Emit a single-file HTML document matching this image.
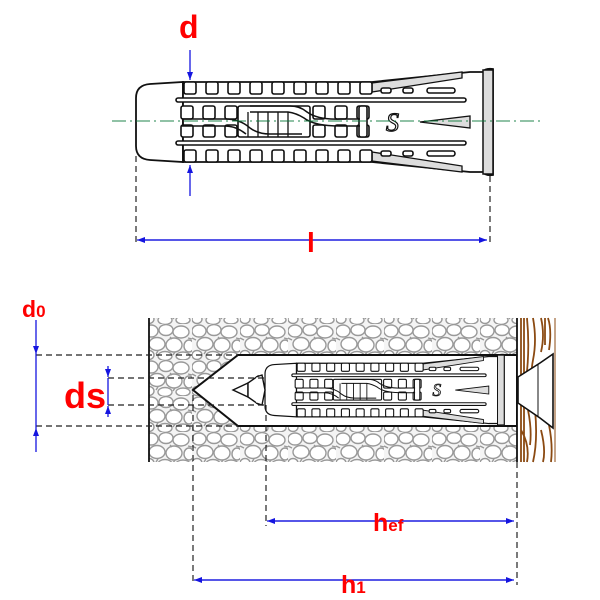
<!DOCTYPE html>
<html><head><meta charset="utf-8"><style>html,body{margin:0;padding:0;background:#fff}svg{display:block}</style></head>
<body>
<svg width="600" height="600" viewBox="0 0 600 600" xmlns="http://www.w3.org/2000/svg">
<defs>
<pattern id="stone" x="0" y="0" width="48" height="36" patternUnits="userSpaceOnUse">
<rect width="48" height="36" fill="#f4f4f4"/>
<g fill="#fff" stroke="#999" stroke-width="1.4">
<ellipse cx="7" cy="7" rx="7" ry="6"/><ellipse cx="22" cy="6" rx="7" ry="5.5"/><ellipse cx="37" cy="8" rx="8" ry="6"/>
<ellipse cx="13" cy="20" rx="8" ry="6.5"/><ellipse cx="30" cy="21" rx="8" ry="7"/><ellipse cx="45" cy="22" rx="5" ry="6"/>
<ellipse cx="5" cy="31" rx="5" ry="4.5"/><ellipse cx="21" cy="32" rx="7" ry="4.5"/><ellipse cx="39" cy="32" rx="7" ry="4"/>
<path d="M0 14 L4 16 M26 13 L28 15 M44 14 L48 15 M14 27 L12 30 M31 28 L29 31" fill="none"/>
</g>
</pattern>
<marker id="ar" markerWidth="8" markerHeight="6" refX="8" refY="3" orient="auto" markerUnits="userSpaceOnUse"><path d="M0 0 L8 3 L0 6 Z" fill="#1515e0"/></marker>
<g id="anchor">
<path d="M136 98 Q136 85 150 84 L183 82 L183 162 L150 160 Q136 159 136 146 Z" fill="#fff" stroke="#111" stroke-width="1.8"/>
<path d="M183 82 L372 82 L470 72 L483 72 Q485 68 493 69 L493 175 Q485 176 483 172 L470 172 L372 162 L183 162 Z" fill="#fff" stroke="#111" stroke-width="1.8"/>
<path d="M372 83 L462 72 L462 78 L372 92 Z M372 161 L462 172 L462 166 L372 152 Z" fill="#ddd" stroke="#111" stroke-width="1.3"/>
<rect x="483" y="70" width="10" height="104" fill="#ddd" stroke="#111" stroke-width="1.5"/>
<path d="M420 122 L470 116 L470 128 Z" fill="#ddd" stroke="#111" stroke-width="1.3"/>
<g fill="#fff" stroke="#111" stroke-width="1.6">
<rect x="184" y="82" width="12" height="12" rx="2"/><rect x="206" y="82" width="12" height="12" rx="2"/><rect x="228" y="82" width="12" height="12" rx="2"/><rect x="250" y="82" width="12" height="12" rx="2"/><rect x="272" y="82" width="12" height="12" rx="2"/><rect x="294" y="82" width="12" height="12" rx="2"/><rect x="316" y="82" width="12" height="12" rx="2"/><rect x="338" y="82" width="12" height="12" rx="2"/><rect x="360" y="82" width="12" height="12" rx="2"/>
<rect x="184" y="150" width="12" height="12" rx="2"/><rect x="206" y="150" width="12" height="12" rx="2"/><rect x="228" y="150" width="12" height="12" rx="2"/><rect x="250" y="150" width="12" height="12" rx="2"/><rect x="272" y="150" width="12" height="12" rx="2"/><rect x="294" y="150" width="12" height="12" rx="2"/><rect x="316" y="150" width="12" height="12" rx="2"/><rect x="338" y="150" width="12" height="12" rx="2"/><rect x="360" y="150" width="12" height="12" rx="2"/>
<rect x="381" y="88" width="10" height="5" rx="2"/><rect x="403" y="88" width="10" height="5" rx="2"/><rect x="427" y="88" width="28" height="5" rx="2.5"/>
<rect x="381" y="151" width="10" height="5" rx="2"/><rect x="403" y="151" width="10" height="5" rx="2"/><rect x="427" y="151" width="28" height="5" rx="2.5"/>
<rect x="176" y="98" width="290" height="4" rx="2"/><rect x="176" y="141" width="290" height="4" rx="2"/>
<rect x="181" y="106" width="12" height="13" rx="2"/><rect x="203" y="106" width="12" height="13" rx="2"/><rect x="225" y="106" width="12" height="13" rx="2"/><rect x="313" y="106" width="12" height="13" rx="2"/><rect x="335" y="106" width="12" height="13" rx="2"/><rect x="357" y="106" width="12" height="13" rx="2"/>
<rect x="181" y="125" width="12" height="12" rx="2"/><rect x="203" y="125" width="12" height="12" rx="2"/><rect x="225" y="125" width="12" height="12" rx="2"/><rect x="313" y="125" width="12" height="12" rx="2"/><rect x="335" y="125" width="12" height="12" rx="2"/><rect x="357" y="125" width="12" height="12" rx="2"/>
<rect x="238" y="106" width="72" height="31" rx="2"/>
<rect x="359" y="106" width="8" height="31" rx="2"/>
</g>
<path d="M248 112 V137 M258 112 V137 M268 112 V137 M278 112 V137 M288 112 V137" stroke="#111" stroke-width="1.3"/>
<path d="M182 119 L225 119 Q240 119 250 128 Q258 134 270 134 L302 134 M182 126 L225 126 Q236 126 246 134 M250 106 L290 106 Q300 106 307 112 Q318 120 340 119 L360 119 M250 112 L288 112 Q296 113 304 118 Q314 126 340 126 L360 126" fill="none" stroke="#111" stroke-width="1.5"/>
<text x="386" y="131" font-family="Liberation Serif, serif" font-style="italic" font-size="26" fill="#fff" stroke="#111" stroke-width="1.2">S</text>
</g>
</defs>

<use href="#anchor"/>
<line x1="112" y1="121" x2="540" y2="121" stroke="#0a7a3a" stroke-width="1" stroke-dasharray="14,4,2,4" opacity="0.9"/>
<text x="179" y="38" font-family="Liberation Sans, sans-serif" font-weight="bold" font-size="32" fill="#f00">d</text>
<line x1="190" y1="50" x2="190" y2="80" stroke="#1515e0" stroke-width="1.3" marker-end="url(#ar)"/>
<line x1="190" y1="196" x2="190" y2="165" stroke="#1515e0" stroke-width="1.3" marker-end="url(#ar)"/>
<g stroke="#222" stroke-width="1.2" stroke-dasharray="6,4">
<line x1="136" y1="156" x2="136" y2="244"/><line x1="490" y1="176" x2="490" y2="244"/>
</g>
<line x1="140" y1="240" x2="487" y2="240" stroke="#1515e0" stroke-width="1.3" marker-end="url(#ar)"/>
<line x1="486" y1="240" x2="137" y2="240" stroke="#1515e0" stroke-width="1.3" marker-end="url(#ar)"/>
<text x="307" y="252" font-family="Liberation Sans, sans-serif" font-weight="bold" font-size="28" fill="#f00">l</text>

<rect x="149" y="318" width="368" height="144" fill="url(#stone)"/>
<path d="M517 355 L238 355 L193 390 L238 426 L517 426 Z" fill="#fff" stroke="#111" stroke-width="2"/>
<rect x="517" y="318" width="38" height="144" fill="#fff"/>
<g stroke="#8b4a12" stroke-width="1.8" fill="none">
<path d="M521 318 V462 M527 318 Q530 350 526 380 M533 318 Q537 340 533 360 Q529 380 535 410 Q538 440 533 462 M541 318 Q545 335 541 352 M548 318 Q552 330 549 350 M521 430 Q530 445 527 462 M541 430 Q546 450 543 462 M549 425 Q553 445 551 462 M528 410 Q532 430 530 445 M545 318 V345 M524 318 V462"/>
</g>
<line x1="149" y1="318" x2="149" y2="462" stroke="#111" stroke-width="1.8"/>
<line x1="517" y1="318" x2="517" y2="462" stroke="#111" stroke-width="1.8"/>
<line x1="555" y1="318" x2="555" y2="462" stroke="#8b4a12" stroke-width="1"/>
<path d="M518 377 L540 363 L553 354 L553 428 L540 418 L518 403 Z" fill="#fff" stroke="#111" stroke-width="1.6"/>
<line x1="538" y1="364" x2="538" y2="417" stroke="#111" stroke-width="1"/>
<g transform="translate(173.9 308.3) scale(0.67)"><use href="#anchor"/></g>
<g fill="#fff" stroke="#111" stroke-width="1.4">
<path d="M233 390 L248 383 L248 397 Z"/>
<path d="M248 383 L258 376 L262 390 L258 404 L248 397 Z"/>
<path d="M256 377 L262 375 L265 390 L262 405 L256 403" />
</g>
<g stroke="#222" stroke-width="1.2" stroke-dasharray="6,4" fill="none">
<line x1="36" y1="355" x2="238" y2="355"/><line x1="36" y1="426" x2="238" y2="426"/>
<line x1="108" y1="378" x2="265" y2="378"/><line x1="108" y1="405" x2="265" y2="405"/>
<line x1="193" y1="395" x2="193" y2="585"/><line x1="266" y1="405" x2="266" y2="526"/><line x1="517" y1="462" x2="517" y2="585"/>
</g>
<text x="22" y="317" font-family="Liberation Sans, sans-serif" font-weight="bold" font-size="23" fill="#f00">d<tspan font-size="17">0</tspan></text>
<line x1="36" y1="320" x2="36" y2="354" stroke="#1515e0" stroke-width="1.3" marker-end="url(#ar)"/>
<line x1="36" y1="354" x2="36" y2="428" stroke="#1515e0" stroke-width="1.3"/>
<line x1="36" y1="452" x2="36" y2="428" stroke="#1515e0" stroke-width="1.3" marker-end="url(#ar)"/>
<line x1="108" y1="366" x2="108" y2="377" stroke="#1515e0" stroke-width="1.3" marker-end="url(#ar)"/>
<line x1="108" y1="378" x2="108" y2="405" stroke="#1515e0" stroke-width="1.3"/>
<line x1="108" y1="417" x2="108" y2="406" stroke="#1515e0" stroke-width="1.3" marker-end="url(#ar)"/>
<text x="64" y="408" font-family="Liberation Sans, sans-serif" font-weight="bold" font-size="36" fill="#f00">ds</text>
<line x1="270" y1="521" x2="514" y2="521" stroke="#1515e0" stroke-width="1.3" marker-end="url(#ar)"/>
<line x1="512" y1="521" x2="267" y2="521" stroke="#1515e0" stroke-width="1.3" marker-end="url(#ar)"/>
<text x="373" y="531" font-family="Liberation Sans, sans-serif" font-weight="bold" font-size="25" fill="#f00">h<tspan font-size="17">ef</tspan></text>
<line x1="198" y1="580" x2="514" y2="580" stroke="#1515e0" stroke-width="1.3" marker-end="url(#ar)"/>
<line x1="512" y1="580" x2="194" y2="580" stroke="#1515e0" stroke-width="1.3" marker-end="url(#ar)"/>
<text x="341" y="593" font-family="Liberation Sans, sans-serif" font-weight="bold" font-size="25" fill="#f00">h<tspan font-size="17">1</tspan></text>
</svg>
</body></html>
